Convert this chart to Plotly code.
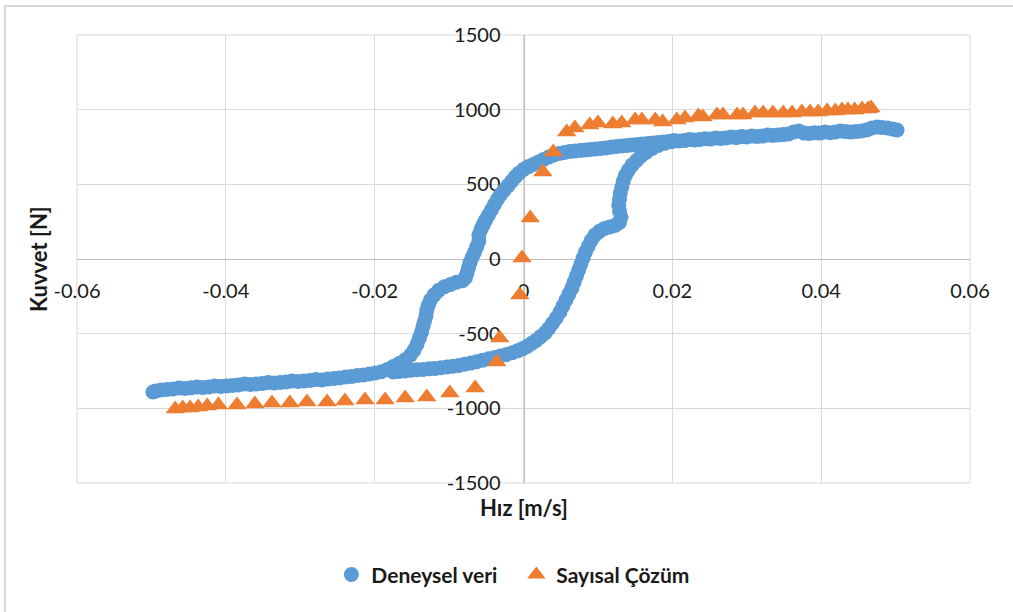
import plotly.graph_objects as go

# ---- Data ----
series_names = ["Deneysel veri", "Sayısal Çözüm"]

deneysel_hiz = [
    0.0502, 0.0496, 0.0489, 0.0482, 0.0475, 0.0468, 0.0461, 0.0454, 0.0447, 0.0440,
    0.0433, 0.0426, 0.0419, 0.0412, 0.0405, 0.0398, 0.0391, 0.0384, 0.0377, 0.0370,
    0.0363, 0.0356, 0.0349, 0.0342, 0.0335, 0.0328, 0.0321, 0.0314, 0.0307, 0.0300,
    0.0293, 0.0286, 0.0279, 0.0272, 0.0265, 0.0258, 0.0251, 0.0244, 0.0237, 0.0230,
    0.0223, 0.0216, 0.0209, 0.0202, 0.0195, 0.0188, 0.0181, 0.0174, 0.0167, 0.0160,
    0.0153, 0.0146, 0.0139, 0.0132, 0.0125, 0.0118, 0.0111, 0.0104, 0.0097, 0.0090,
    0.0083, 0.0076, 0.0069, 0.0062, 0.0055, 0.0048, 0.0041, 0.0034, 0.0027, 0.0020,
    0.0013, 0.0006, 0.0000,
    -0.0006, -0.0011, -0.0016, -0.0021, -0.0026, -0.0031, -0.0035, -0.0039, -0.0043, -0.0047,
    -0.0051, -0.0054, -0.0057, -0.0060, -0.0060, -0.0063, -0.0066, -0.0069, -0.0072, -0.0074,
    -0.0076, -0.0078, -0.0082, -0.0090, -0.0098, -0.0106, -0.0114, -0.0120, -0.0125, -0.0128,
    -0.0130, -0.0131, -0.0133, -0.0135, -0.0137, -0.0140, -0.0143, -0.0147, -0.0152, -0.0159,
    -0.0167, -0.0175, -0.0183, -0.0191,
    -0.0199, -0.0207, -0.0215, -0.0223, -0.0231, -0.0239, -0.0247, -0.0255, -0.0263, -0.0271,
    -0.0279, -0.0287, -0.0295, -0.0303, -0.0311, -0.0319, -0.0327, -0.0335, -0.0343, -0.0351,
    -0.0359, -0.0367, -0.0375, -0.0383, -0.0391, -0.0399, -0.0407, -0.0415, -0.0423, -0.0431,
    -0.0439, -0.0447, -0.0455, -0.0463, -0.0471, -0.0479, -0.0487, -0.0494, -0.0498,
    -0.0175, -0.0167, -0.0159, -0.0151, -0.0143, -0.0135, -0.0127, -0.0119, -0.0111, -0.0103,
    -0.0095, -0.0087, -0.0079, -0.0071, -0.0063, -0.0055, -0.0047, -0.0039, -0.0031, -0.0023,
    -0.0015, -0.0008, -0.0001, 0.0005, 0.0011,
    0.0017, 0.0023, 0.0029, 0.0034, 0.0039, 0.0044, 0.0049, 0.0053, 0.0057, 0.0061,
    0.0065, 0.0068, 0.0071, 0.0074, 0.0077, 0.0080, 0.0083, 0.0087, 0.0091, 0.0096,
    0.0102, 0.0109, 0.0116, 0.0123, 0.0129, 0.0131, 0.0129, 0.0128, 0.0129, 0.0130,
    0.0132, 0.0134, 0.0137, 0.0141, 0.0146, 0.0152, 0.0158, 0.0165, 0.0173, 0.0181,
    0.0190, 0.0199,
]
deneysel_kuvvet = [
    864, 870, 877, 880, 884, 877, 864, 857, 853, 850,
    853, 857, 850, 846, 850, 843, 846, 840, 843, 857,
    850, 837, 833, 830, 827, 830, 823, 820, 823, 817,
    820, 813, 817, 810, 807, 810, 803, 806, 800, 797,
    800, 793, 790, 793, 787, 783, 780, 777, 773, 770,
    767, 763, 760, 757, 753, 750, 743, 740, 737, 733,
    730, 727, 723, 720, 713, 707, 697, 683, 667, 650,
    633, 617, 600,
    575, 550, 520, 490, 460, 430, 400, 365, 330, 295,
    260, 230, 200, 160, 120, 80, 45, 10, -25, -60,
    -95, -125, -145, -155, -170, -185, -210, -240, -275, -310,
    -345, -380, -415, -450, -490, -530, -570, -610, -645, -675,
    -700, -720, -740, -755,
    -763, -770, -777, -780, -787, -790, -797, -800, -803, -810,
    -807, -813, -817, -820, -817, -823, -827, -830, -827, -833,
    -837, -840, -837, -843, -847, -850, -853, -850, -857, -860,
    -857, -863, -867, -864, -870, -874, -877, -884, -891,
    -757, -753, -750, -745, -742, -740, -735, -733, -728, -723,
    -718, -713, -705, -697, -688, -678, -668, -660, -650, -640,
    -628, -615, -600, -585, -565,
    -545, -520, -495, -465, -430, -395, -355, -315, -275, -235,
    -195, -155, -115, -75, -35, 5, 45, 85, 125, 160,
    185, 205, 215, 225, 245, 280, 320, 360, 400, 440,
    480, 520, 560, 595, 630, 660, 690, 715, 740, 760,
    775, 785,
]

sayisal_hiz = [
    -0.0468, -0.0458, -0.0448, -0.0437, -0.0425, -0.0410, -0.0385, -0.0361, -0.0338, -0.0314,
    -0.0291, -0.0264, -0.0240, -0.0213, -0.0186, -0.0159, -0.0130, -0.0099, -0.0065,
    -0.0036, -0.0032, -0.0005, -0.0002, 0.0009, 0.0026, 0.0040,
    0.0058, 0.0069, 0.0089, 0.0100, 0.0120, 0.0132, 0.0150, 0.0159, 0.0177, 0.0187,
    0.0206, 0.0217, 0.0235, 0.0241, 0.0260, 0.0268, 0.0287, 0.0295, 0.0311, 0.0322,
    0.0335, 0.0349, 0.0361, 0.0374, 0.0385, 0.0396, 0.0408, 0.0419, 0.0428, 0.0436,
    0.0445, 0.0455, 0.0463, 0.0467,
]
sayisal_kuvvet = [
    -1004, -998, -998, -991, -984, -978, -978, -971, -964, -964,
    -958, -958, -951, -944, -944, -931, -924, -897, -864,
    -690, -529, -241, 7, 275, 583, 716,
    850, 877, 897, 911, 904, 911, 931, 931, 931, 917,
    931, 944, 958, 951, 964, 964, 964, 964, 978, 978,
    978, 978, 978, 984, 984, 984, 991, 991, 998, 998,
    998, 1004, 1004, 1011,
]

x_tickvals = [-0.06, -0.04, -0.02, 0, 0.02, 0.04, 0.06]
x_ticktext = ["-0.06", "-0.04", "-0.02", "0", "0.02", "0.04", "0.06"]
y_tickvals = [-1500, -1000, -500, 0, 500, 1000, 1500]
y_ticktext = ["-1500", "-1000", "-500", "0", "500", "1000", "1500"]

x_title = "Hız [m/s]"
y_title = "Kuvvet [N]"

# ---- Styles ----
BLUE = "#5B9BD5"
ORANGE = "#ED7D31"
GRID = "#D9D9D9"
AXIS = "#BFBFBF"
TXT = "#1a1a1a"
FONT = "Lato, Carlito, Calibri, sans-serif"

fig = go.Figure()
fig.add_trace(go.Scatter(
    x=deneysel_hiz, y=deneysel_kuvvet, mode="markers", name=series_names[0],
    marker=dict(symbol="circle", size=15, color=BLUE, line=dict(width=0)),
))
fig.add_trace(go.Scatter(
    x=sayisal_hiz, y=sayisal_kuvvet, mode="markers", name=series_names[1],
    marker=dict(symbol="triangle-up", size=17, color=ORANGE, line=dict(width=0)),
))

fig.update_layout(
    width=1013, height=612,
    margin=dict(l=77, r=43, t=35, b=129),
    paper_bgcolor="white", plot_bgcolor="white",
    font=dict(family=FONT, color=TXT),
    showlegend=True,
    legend=dict(
        orientation="h", x=0.492, xanchor="center", y=-0.205, yanchor="middle",
        font=dict(family=FONT, size=21, color=TXT, weight="bold"),
        itemsizing="trace", traceorder="normal",
        entrywidth=140, entrywidthmode="pixels", itemwidth=30,
    ),
    xaxis=dict(
        range=[-0.06, 0.06], tickvals=x_tickvals, ticktext=x_ticktext,
        showgrid=True, gridcolor=GRID, gridwidth=1, zeroline=False,
        showline=True, linecolor=AXIS, linewidth=1,
        anchor="free", position=0.5, ticks="", ticklabelstandoff=14,
        tickfont=dict(family=FONT, size=20, color=TXT), layer="below traces",
    ),
    yaxis=dict(
        range=[-1500, 1500], tickvals=y_tickvals, ticktext=y_ticktext,
        showgrid=True, gridcolor=GRID, gridwidth=1, zeroline=False,
        showline=True, linecolor=AXIS, linewidth=1,
        anchor="free", position=0.5, ticks="", ticklabelstandoff=19,
        tickfont=dict(family=FONT, size=20, color=TXT), layer="below traces",
    ),
    shapes=[
        dict(type="rect", xref="paper", yref="paper", x0=0, y0=0, x1=1, y1=1,
             line=dict(color=GRID, width=1), layer="below"),
        dict(type="rect", xref="paper", yref="paper", x0=-0.0806, y0=-0.31, x1=1.06, y1=1.0647,
             line=dict(color=GRID, width=2), layer="below"),
    ],
    annotations=[
        dict(text=y_title, xref="paper", yref="paper", x=-0.0437, y=0.5,
             textangle=-90, showarrow=False, xanchor="center", yanchor="middle",
             font=dict(family=FONT, size=22, color=TXT, weight="bold")),
        dict(text=x_title, xref="paper", yref="paper", x=0.5, y=-0.0536,
             showarrow=False, xanchor="center", yanchor="middle",
             font=dict(family=FONT, size=22, color=TXT, weight="bold")),
    ],
)

fig.write_html("out.html")
